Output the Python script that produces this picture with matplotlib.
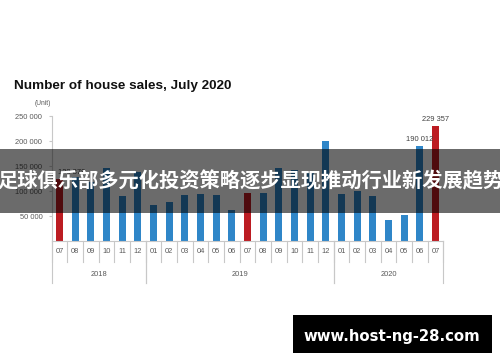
import matplotlib.pyplot as plt
from matplotlib.patches import Rectangle

# monthly house sales, July 2018 - July 2020
months = ["07", "08", "09", "10", "11", "12",
          "01", "02", "03", "04", "05", "06", "07", "08", "09", "10", "11", "12",
          "01", "02", "03", "04", "05", "06", "07"]
sales = [123878, 128000, 118000, 147000, 90000, 138000,
         72000, 78000, 92000, 95000, 92000, 62000, 97000, 96000, 147000, 143000, 137000, 200000,
         95000, 100000, 90000, 43000, 52000, 190012, 229357]
years = ["2018", "2019", "2020"]
year_spans = [(0, 6), (6, 18), (18, 25)]
highlight = [0, 12, 24]
labelled = {0: "123 878", 23: "190 012", 24: "229 357"}
yticks = [50000, 100000, 150000, 200000, 250000]

W, H = 500, 362
BLUE = "#2f86c8"
RED = "#bc1c22"
GRAY = "#595959"
LINE = "#c8c8c8"

plt.rcParams['font.family'] = ['Liberation Sans', 'DejaVu Sans']

fig = plt.figure(figsize=(W / 100, H / 100), dpi=100)


def fx(x):
    return x / W


def fy(y):
    return 1 - y / H


# axes placed to match the reference pixel frame
ax = fig.add_axes([fx(51.7), fy(241), fx(443.3) - fx(51.7), (241 - 116) / H])
n = len(sales)
colors = [RED if i in highlight else BLUE for i in range(n)]
ax.bar(range(n), sales, width=0.46, color=colors, zorder=2)
ax.set_xlim(-0.5, n - 0.5)
ax.set_ylim(0, 250000)

for i, txt in labelled.items():
    dx = 9 if i == 0 else 0
    ax.annotate(txt, (i, sales[i]), xytext=(dx, 2.5), textcoords="offset points",
                ha="center", va="bottom", fontsize=5.4, color="#404040")

for s in ["top", "right"]:
    ax.spines[s].set_visible(False)
ax.spines["left"].set_color(LINE)
ax.spines["bottom"].set_color(LINE)
ax.spines["left"].set_linewidth(0.8)
ax.spines["bottom"].set_linewidth(0.8)

ax.set_yticks(yticks)
ax.set_yticklabels([f"{v:,}".replace(",", " ") for v in yticks])
ax.tick_params(axis="y", length=2.3, width=0.8, color=LINE, pad=4.5,
               labelsize=5.4, labelcolor=GRAY)
ax.set_xticks(range(n))
ax.set_xticklabels(months)
ax.tick_params(axis="x", length=0, pad=5, labelsize=5.4, labelcolor=GRAY)

# category separators
trans = ax.get_xaxis_transform()
for b in range(n + 1):
    ax.plot([b - 0.5, b - 0.5], [0, -21 / 125], transform=trans, color=LINE,
            lw=0.8, clip_on=False)
for (a, b), yr in zip(year_spans, years):
    for e in (a, b):
        ax.plot([e - 0.5, e - 0.5], [0, -42 / 125], transform=trans, color=LINE,
                lw=0.8, clip_on=False)
    ax.text((a + b - 1) / 2, -33 / 125, yr, transform=trans, ha="center",
            va="center", fontsize=5.4, color=GRAY)

fig.text(fx(14), fy(85.7), "Number of house sales, July 2020", fontsize=9.7,
         fontweight="bold", color="#111111", ha="left", va="center")
fig.text(fx(42.5), fy(103.5), "(Unit)", fontsize=4.8, color=GRAY,
         ha="center", va="center")

# overlay banner
fig.patches.append(Rectangle((0, fy(213)), 1, (213 - 149) / H, transform=fig.transFigure,
                             facecolor="black", alpha=0.58, zorder=10))
fig.text(0.5, fy(181), "足球俱乐部多元化投资策略逐步显现推动行业新发展趋势",
         family=['Noto Sans CJK SC', 'DejaVu Sans'], fontsize=14.6, fontweight="bold",
         color="white", ha="center", va="center", zorder=11)

# watermark box
fig.patches.append(Rectangle((fx(293), fy(353)), (492 - 293) / W, (353 - 315) / H,
                             transform=fig.transFigure, facecolor="black", zorder=10))
fig.text(fx(391.5), fy(336), "www.host-ng-28.com", family="DejaVu Sans",
         fontsize=10.7, fontweight="bold", color="white", ha="center", va="center", zorder=11)

fig.savefig("out.png", dpi=100)
